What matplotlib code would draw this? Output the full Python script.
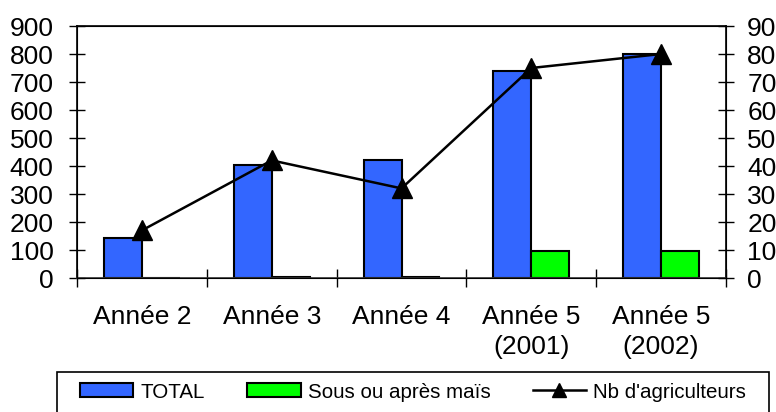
import matplotlib
matplotlib.use("Agg")
import matplotlib.pyplot as plt
import numpy as np
from matplotlib.patches import Rectangle
from matplotlib.lines import Line2D

plt.rcParams['font.family'] = ['Liberation Sans', 'DejaVu Sans']

categories = ["Année 2", "Année 3", "Année 4", "Année 5\n(2001)", "Année 5\n(2002)"]
total = [143, 402, 422, 740, 800]
sous_mais = [0, 5, 5, 95, 97]
nb_agri = [17, 42, 32, 75, 80]

W, H = 776, 412
fig = plt.figure(figsize=(W / 100, H / 100), dpi=100)
ax = fig.add_axes([77 / W, 1 - 278 / H, (726 - 77) / W, (278 - 26) / H])

x = np.arange(len(categories))
bw = 0.292
ax.bar(x - bw / 2, total, bw, color='#3366FF', edgecolor='black', linewidth=1.5, label='TOTAL', zorder=2)
ax.bar(x + bw / 2, sous_mais, bw, color='#00FF00', edgecolor='black', linewidth=1.5, label='Sous ou après maïs', zorder=2)

ax.set_xlim(-0.5, len(categories) - 0.5)
ax.set_ylim(0, 900)
ax.set_yticks(np.arange(0, 901, 100))
ax.set_xticks(np.arange(-0.5, len(categories), 1.0))
ax.set_xticklabels([])
ax.set_xticks(x, minor=True)
ax.set_xticklabels(categories, minor=True, fontsize=19, linespacing=1.3)
ax.tick_params(axis='x', which='minor', length=0, pad=19.5)
ax.tick_params(axis='x', which='major', direction='inout', length=13, width=1)
ax.tick_params(axis='y', direction='inout', length=11.5, width=1, labelsize=19, pad=11)
for s in ax.spines.values():
    s.set_linewidth(1.2)
ax.spines['bottom'].set_color('#333333')

ax2 = ax.twinx()
ax2.set_ylim(0, 90)
ax2.set_yticks(np.arange(0, 91, 10))
ax2.tick_params(axis='y', direction='inout', length=11.5, width=1, labelsize=19, pad=9.5)
ax2.plot(x, nb_agri, color='black', linewidth=1.8, marker='^', markersize=14,
         markerfacecolor='black', label="Nb d'agriculteurs", zorder=3)

# legend frame
fig.patches.append(Rectangle((57 / W, -0.05), (769 - 57) / W, (1 - 372 / H) + 0.05,
                             transform=fig.transFigure, facecolor='white',
                             edgecolor='black', linewidth=1.2, zorder=5))
handles = [Rectangle((0, 0), 1, 1, facecolor='#3366FF', edgecolor='black', linewidth=1.5),
           Rectangle((0, 0), 1, 1, facecolor='#00FF00', edgecolor='black', linewidth=1.5),
           Line2D([], [], color='black', linewidth=1.8, marker='^', markersize=10)]
labels = ['TOTAL', 'Sous ou après maïs', "Nb d'agriculteurs"]
leg = fig.legend(handles, labels, loc='center left', bbox_to_anchor=(80 / W, 1 - 392 / H),
                 ncol=3, frameon=False, fontsize=14.8, handlelength=2.6, handleheight=0.65,
                 handletextpad=0.35, columnspacing=2.05, borderpad=0, borderaxespad=0)
leg.set_zorder(6)

fig.savefig('out.png', dpi=100)
